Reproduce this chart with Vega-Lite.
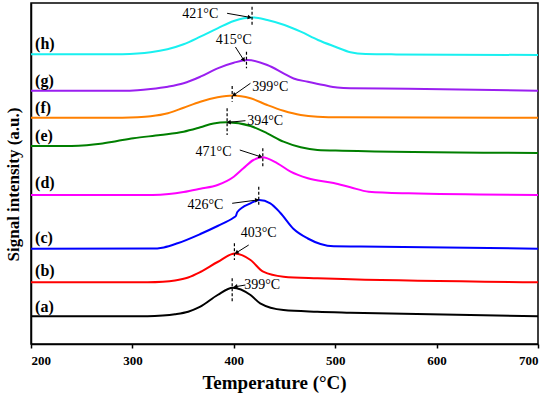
{
  "$schema": "https://vega.github.io/schema/vega-lite/v6.json",
  "autosize": "none",
  "width": 507,
  "height": 341,
  "padding": {"left": 31, "top": 3, "right": 12, "bottom": 51},
  "background": "white",
  "config": {
    "view": {"stroke": "black", "strokeWidth": 1.5},
    "font": "Liberation Serif"
  },
  "datasets": {
    "curves": [
      {"s": "h", "T": 200, "v": 289.7}, {"s": "h", "T": 260, "v": 289.7}, {"s": "h", "T": 290, "v": 289.8}, {"s": "h", "T": 305, "v": 290.4}, {"s": "h", "T": 318, "v": 291.7}, {"s": "h", "T": 334.5, "v": 294.7}, {"s": "h", "T": 350.5, "v": 299.7}, {"s": "h", "T": 367, "v": 307.3}, {"s": "h", "T": 384, "v": 315.7}, {"s": "h", "T": 400, "v": 323}, {"s": "h", "T": 410, "v": 325.7}, {"s": "h", "T": 420, "v": 326.5}, {"s": "h", "T": 433, "v": 324}, {"s": "h", "T": 450, "v": 319}, {"s": "h", "T": 466, "v": 312.3}, {"s": "h", "T": 483, "v": 304}, {"s": "h", "T": 500, "v": 297.3}, {"s": "h", "T": 515, "v": 291.8}, {"s": "h", "T": 530, "v": 290}, {"s": "h", "T": 560, "v": 289.6}, {"s": "h", "T": 700, "v": 289},
      {"s": "g", "T": 200, "v": 253.3}, {"s": "g", "T": 290, "v": 253.3}, {"s": "g", "T": 305, "v": 253.8}, {"s": "g", "T": 318, "v": 255}, {"s": "g", "T": 335, "v": 257.3}, {"s": "g", "T": 350.5, "v": 260.7}, {"s": "g", "T": 367, "v": 267.3}, {"s": "g", "T": 384, "v": 275.7}, {"s": "g", "T": 400, "v": 281.3}, {"s": "g", "T": 413.5, "v": 284}, {"s": "g", "T": 433, "v": 279}, {"s": "g", "T": 449, "v": 270.7}, {"s": "g", "T": 459, "v": 265.5}, {"s": "g", "T": 473, "v": 262.3}, {"s": "g", "T": 488.5, "v": 259}, {"s": "g", "T": 502, "v": 256.5}, {"s": "g", "T": 515, "v": 255.7}, {"s": "g", "T": 572, "v": 255.3}, {"s": "g", "T": 700, "v": 253.3},
      {"s": "f", "T": 200, "v": 226.3}, {"s": "f", "T": 290, "v": 226.3}, {"s": "f", "T": 305, "v": 226.7}, {"s": "f", "T": 318, "v": 227.7}, {"s": "f", "T": 335, "v": 230.7}, {"s": "f", "T": 350.5, "v": 236.3}, {"s": "f", "T": 367, "v": 242.3}, {"s": "f", "T": 384, "v": 246.7}, {"s": "f", "T": 399, "v": 248.5}, {"s": "f", "T": 416.5, "v": 245.7}, {"s": "f", "T": 433, "v": 239}, {"s": "f", "T": 449, "v": 233.3}, {"s": "f", "T": 466, "v": 229}, {"s": "f", "T": 482.5, "v": 227.3}, {"s": "f", "T": 505, "v": 226.7}, {"s": "f", "T": 700, "v": 226.3},
      {"s": "e", "T": 200, "v": 198}, {"s": "e", "T": 240, "v": 198}, {"s": "e", "T": 255, "v": 198.7}, {"s": "e", "T": 268.5, "v": 200.2}, {"s": "e", "T": 285, "v": 203}, {"s": "e", "T": 301, "v": 205.7}, {"s": "e", "T": 327.6, "v": 209}, {"s": "e", "T": 350.5, "v": 212.3}, {"s": "e", "T": 367, "v": 216.7}, {"s": "e", "T": 380, "v": 220.5}, {"s": "e", "T": 393, "v": 221.7}, {"s": "e", "T": 416.5, "v": 218}, {"s": "e", "T": 433, "v": 210.7}, {"s": "e", "T": 449, "v": 202.3}, {"s": "e", "T": 466, "v": 196.7}, {"s": "e", "T": 482.5, "v": 194}, {"s": "e", "T": 507, "v": 193.3}, {"s": "e", "T": 700, "v": 191},
      {"s": "d", "T": 200, "v": 149}, {"s": "d", "T": 320, "v": 149.1}, {"s": "d", "T": 336, "v": 150}, {"s": "d", "T": 350.5, "v": 152}, {"s": "d", "T": 367, "v": 155.3}, {"s": "d", "T": 384, "v": 159}, {"s": "d", "T": 400, "v": 167.3}, {"s": "d", "T": 409.5, "v": 175.7}, {"s": "d", "T": 419.4, "v": 184}, {"s": "d", "T": 428, "v": 186.7}, {"s": "d", "T": 443, "v": 180.7}, {"s": "d", "T": 456, "v": 172.3}, {"s": "d", "T": 473, "v": 165.7}, {"s": "d", "T": 498.5, "v": 161}, {"s": "d", "T": 515, "v": 156.7}, {"s": "d", "T": 533, "v": 152.3}, {"s": "d", "T": 572.5, "v": 150.7}, {"s": "d", "T": 700, "v": 149},
      {"s": "c", "T": 200, "v": 95.3}, {"s": "c", "T": 318, "v": 95.4}, {"s": "c", "T": 331, "v": 96.6}, {"s": "c", "T": 344.5, "v": 100.7}, {"s": "c", "T": 367, "v": 110}, {"s": "c", "T": 384, "v": 118}, {"s": "c", "T": 400, "v": 126.5}, {"s": "c", "T": 402, "v": 128}, {"s": "c", "T": 403.5, "v": 132}, {"s": "c", "T": 416.5, "v": 140.7}, {"s": "c", "T": 425, "v": 144}, {"s": "c", "T": 436, "v": 140.7}, {"s": "c", "T": 446, "v": 131}, {"s": "c", "T": 459, "v": 115}, {"s": "c", "T": 473, "v": 105.5}, {"s": "c", "T": 485.5, "v": 100}, {"s": "c", "T": 498.5, "v": 97.7}, {"s": "c", "T": 525, "v": 97.5}, {"s": "c", "T": 700, "v": 95.3},
      {"s": "b", "T": 200, "v": 61.7}, {"s": "b", "T": 315, "v": 61.7}, {"s": "b", "T": 330, "v": 62.2}, {"s": "b", "T": 342, "v": 63.5}, {"s": "b", "T": 355, "v": 66.5}, {"s": "b", "T": 367, "v": 72}, {"s": "b", "T": 384, "v": 82}, {"s": "b", "T": 401, "v": 90.5}, {"s": "b", "T": 416.5, "v": 84}, {"s": "b", "T": 429, "v": 72.3}, {"s": "b", "T": 449, "v": 67.3}, {"s": "b", "T": 482.5, "v": 65.7}, {"s": "b", "T": 515, "v": 64.7}, {"s": "b", "T": 700, "v": 61.7},
      {"s": "a", "T": 200, "v": 27.7}, {"s": "a", "T": 315, "v": 27.8}, {"s": "a", "T": 330, "v": 28.5}, {"s": "a", "T": 342, "v": 29.8}, {"s": "a", "T": 355, "v": 32.3}, {"s": "a", "T": 367, "v": 37.3}, {"s": "a", "T": 384, "v": 49}, {"s": "a", "T": 399, "v": 56.3}, {"s": "a", "T": 416.5, "v": 49}, {"s": "a", "T": 426, "v": 40.7}, {"s": "a", "T": 449, "v": 34}, {"s": "a", "T": 482.5, "v": 32.3}, {"s": "a", "T": 515, "v": 31.3}, {"s": "a", "T": 700, "v": 27.7}
    ],
    "series": [
      {"s": "h", "label": "(h)", "T": 204, "v": 300},
      {"s": "g", "label": "(g)", "T": 204, "v": 263},
      {"s": "f", "label": "(f)", "T": 204, "v": 236},
      {"s": "e", "label": "(e)", "T": 204, "v": 208},
      {"s": "d", "label": "(d)", "T": 204, "v": 161},
      {"s": "c", "label": "(c)", "T": 204, "v": 106.3},
      {"s": "b", "label": "(b)", "T": 204, "v": 73},
      {"s": "a", "label": "(a)", "T": 204, "v": 37.3}
    ],
    "peaks": [
      {"s": "h", "label": "421°C", "tx": 367, "tv": 330, "px": 418, "pv1": 337.3, "pv2": 319, "ax1": 393.4, "av1": 330.7, "ax2": 415.7, "av2": 326.7, "dir": 100},
      {"s": "g", "label": "415°C", "tx": 400, "tv": 304, "px": 412.5, "pv1": 292.3, "pv2": 275.7, "ax1": 401.6, "av1": 297, "ax2": 409.8, "av2": 284, "dir": 147},
      {"s": "f", "label": "399°C", "tx": 436, "tv": 256.7, "px": 398.4, "pv1": 258, "pv2": 242.3, "ax1": 416.4, "av1": 260.7, "ax2": 400, "av2": 249, "dir": 235},
      {"s": "e", "label": "394°C", "tx": 431, "tv": 223.3, "px": 393.4, "pv1": 235.7, "pv2": 209, "ax1": 411.5, "av1": 223.3, "ax2": 395, "av2": 221.7, "dir": 264},
      {"s": "d", "label": "471°C", "tx": 380, "tv": 192.3, "px": 428.6, "pv1": 195.7, "pv2": 177.3, "ax1": 405.9, "av1": 194, "ax2": 426.3, "av2": 187.3, "dir": 108},
      {"s": "c", "label": "426°C", "tx": 372, "tv": 139, "px": 424.6, "pv1": 157.3, "pv2": 139, "ax1": 398.4, "av1": 140.7, "ax2": 423, "av2": 144, "dir": 82},
      {"s": "b", "label": "403°C", "tx": 424.6, "tv": 110.7, "px": 400.6, "pv1": 100.7, "pv2": 84, "ax1": 414.7, "av1": 99, "ax2": 402.6, "av2": 91.3, "dir": 238},
      {"s": "a", "label": "399°C", "tx": 428, "tv": 59, "px": 398.4, "pv1": 65.7, "pv2": 40.7, "ax1": 411.5, "av1": 59, "ax2": 401.6, "av2": 57.3, "dir": 260}
    ]
  },
  "layer": [
    {
      "data": {"name": "curves"},
      "mark": {"type": "line", "strokeWidth": 2, "interpolate": "monotone"},
      "encoding": {
        "x": {"field": "T", "type": "quantitative", "scale": {"domain": [200, 700], "nice": false},
          "axis": {"values": [200, 300, 400, 500, 600, 700], "title": "Temperature (°C)", "grid": false,
            "labelFont": "Liberation Serif", "labelFontWeight": "bold", "labelFontSize": 13, "labelColor": "black", "labelPadding": 6,
            "tickColor": "black", "tickSize": 4, "tickWidth": 1.5, "domainColor": "black", "domainWidth": 1.5,
            "titleFont": "Liberation Serif", "titleFontWeight": "bold", "titleFontSize": 19, "titleColor": "black",
            "titleX": 243, "titleY": 38, "titleBaseline": "middle", "titleAnchor": null}},
        "y": {"field": "v", "type": "quantitative", "scale": {"domain": [0, 341], "nice": false},
          "axis": {"title": "Signal intensity (a.u.)", "grid": false, "labels": false, "ticks": false,
            "domainColor": "black", "domainWidth": 1.5,
            "titleFont": "Liberation Serif", "titleFontWeight": "bold", "titleFontSize": 17, "titleColor": "black",
            "titleX": -18, "titleY": 181, "titleBaseline": "middle", "titleAngle": -90}},
        "color": {"field": "s", "type": "nominal", "legend": null,
          "scale": {"domain": ["a", "b", "c", "d", "e", "f", "g", "h"],
            "range": ["#000000", "#ff0000", "#0000ff", "#ff00ff", "#007f00", "#ff8000", "#9a1ff0", "#19f0f0"]}},
        "detail": {"field": "s"}
      }
    },
    {
      "data": {"name": "series"},
      "mark": {"type": "text", "align": "left", "baseline": "middle", "font": "Liberation Serif", "fontWeight": "bold", "fontSize": 16, "color": "black"},
      "encoding": {
        "x": {"field": "T", "type": "quantitative"},
        "y": {"field": "v", "type": "quantitative"},
        "text": {"field": "label"}
      }
    },
    {
      "data": {"name": "peaks"},
      "mark": {"type": "rule", "color": "black", "strokeWidth": 1.2, "strokeDash": [3, 2]},
      "encoding": {
        "x": {"field": "px", "type": "quantitative"},
        "y": {"field": "pv1", "type": "quantitative"},
        "y2": {"field": "pv2"}
      }
    },
    {
      "data": {"name": "peaks"},
      "mark": {"type": "rule", "color": "black", "strokeWidth": 1},
      "encoding": {
        "x": {"field": "ax1", "type": "quantitative"},
        "y": {"field": "av1", "type": "quantitative"},
        "x2": {"field": "ax2"},
        "y2": {"field": "av2"}
      }
    },
    {
      "data": {"name": "peaks"},
      "mark": {"type": "point", "shape": "triangle-up", "filled": true, "color": "black", "size": 22, "opacity": 1},
      "encoding": {
        "x": {"field": "ax2", "type": "quantitative"},
        "y": {"field": "av2", "type": "quantitative"},
        "angle": {"field": "dir", "type": "quantitative", "scale": null}
      }
    },
    {
      "data": {"name": "peaks"},
      "mark": {"type": "text", "align": "center", "baseline": "middle", "font": "Liberation Serif", "fontSize": 14, "color": "black"},
      "encoding": {
        "x": {"field": "tx", "type": "quantitative"},
        "y": {"field": "tv", "type": "quantitative"},
        "text": {"field": "label"}
      }
    }
  ]
}
